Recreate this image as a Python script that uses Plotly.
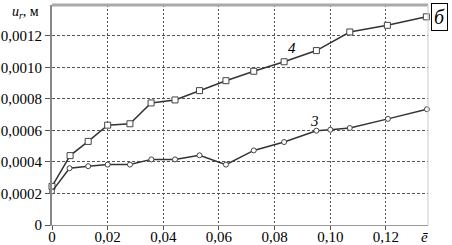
import plotly.graph_objects as go

# Data
x4 = [0, 0.0065, 0.013, 0.02, 0.028, 0.0356, 0.0442, 0.053, 0.0625, 0.0725, 0.0834, 0.095, 0.107, 0.1205, 0.1345]
y4 = [0.000245, 0.00044, 0.00053, 0.000633, 0.000642, 0.000774, 0.000793, 0.000852, 0.000915, 0.000975,
      0.001035, 0.001106, 0.001224, 0.001266, 0.00132]
x3 = [0, 0.0063, 0.013, 0.02, 0.028, 0.0357, 0.0442, 0.053, 0.0625, 0.0725, 0.0834, 0.095, 0.1, 0.107, 0.1207, 0.1347]
y3 = [0.000213, 0.00036, 0.000373, 0.000383, 0.000383, 0.000416, 0.000416, 0.000442, 0.000383, 0.000473,
      0.000526, 0.000598, 0.000604, 0.000615, 0.000673, 0.000734]

xtick_vals = [0, 0.02, 0.04, 0.06, 0.08, 0.10, 0.12]
xtick_text = ["0", "0,02", "0,04", "0,06", "0,08", "0,10", "0,12"]
ytick_vals = [0, 0.0002, 0.0004, 0.0006, 0.0008, 0.0010, 0.0012]
ytick_text = ["0", "0,0002", "0,0004", "0,0006", "0,0008", "0,0010", "0,0012"]

FONT = "Liberation Serif, Times New Roman, DejaVu Serif, serif"
LINE = "#333333"

fig = go.Figure()
fig.add_trace(go.Scatter(
    x=x4, y=y4, mode="lines+markers", cliponaxis=False,
    line=dict(color=LINE, width=1.5),
    marker=dict(symbol="square", size=6, color="white", line=dict(color="#444", width=1)),
    showlegend=False))
fig.add_trace(go.Scatter(
    x=x3, y=y3, mode="lines+markers", cliponaxis=False,
    line=dict(color=LINE, width=1.5),
    marker=dict(symbol="circle", size=5, color="white", line=dict(color="#444", width=1)),
    showlegend=False))

fig.update_layout(
    width=452, height=245,
    margin=dict(l=52, r=24, t=5, b=20),
    paper_bgcolor="white", plot_bgcolor="white",
    font=dict(family=FONT, size=15, color="black"),
    xaxis=dict(range=[0, 0.1351], tickvals=xtick_vals, ticktext=xtick_text,
               showgrid=True, gridcolor="#555", gridwidth=1, griddash="2px,2px",
               showline=True, linecolor="#999", linewidth=1, automargin=False,
               ticks="outside", ticklen=4, tickcolor="#555", zeroline=False,
               ticklabelstandoff=-6,
               tickfont=dict(family=FONT, size=15, color="black")),
    yaxis=dict(range=[0, 0.001395], tickvals=ytick_vals, ticktext=ytick_text,
               showgrid=True, gridcolor="#555", gridwidth=1, griddash="3px,2px",
               showline=True, linecolor="#888", linewidth=2, automargin=False,
               ticks="outside", ticklen=5, tickcolor="#555", zeroline=False,
               tickfont=dict(family=FONT, size=15, color="black")),
    shapes=[
        dict(type="line", xref="paper", yref="paper", x0=0, x1=1, y0=1, y1=1,
             line=dict(color="#aaa", width=3)),
        dict(type="line", xref="paper", yref="paper", x0=1, x1=1, y0=0, y1=1,
             line=dict(color="#ccc", width=1)),
    ],
    annotations=[
        dict(text="<i>u<sub>r</sub></i>, м", xref="paper", yref="paper", x=-0.112, y=0.965,
             xanchor="left", yanchor="middle", showarrow=False, font=dict(family=FONT, size=14)),
        dict(text="<i>б</i>", xref="paper", yref="paper", x=1.0306, y=0.945,
             xanchor="center", yanchor="middle", showarrow=False, bgcolor="white",
             bordercolor="black", borderwidth=1, borderpad=2,
             font=dict(family=FONT, size=20)),
        dict(text="<i>ē</i>", xref="paper", yref="paper", x=0.992, y=-0.055,
             xanchor="center", yanchor="middle", showarrow=False, font=dict(family=FONT, size=15)),
        dict(text="<i>4</i>", x=0.0864, y=0.001121, showarrow=False,
             font=dict(family=FONT, size=15)),
        dict(text="<i>3</i>", x=0.0944, y=0.000662, showarrow=False,
             font=dict(family=FONT, size=15)),
    ],
)

fig.write_html("out.html", config={"displayModeBar": False},
               post_script="document.body.style.margin='0';")
